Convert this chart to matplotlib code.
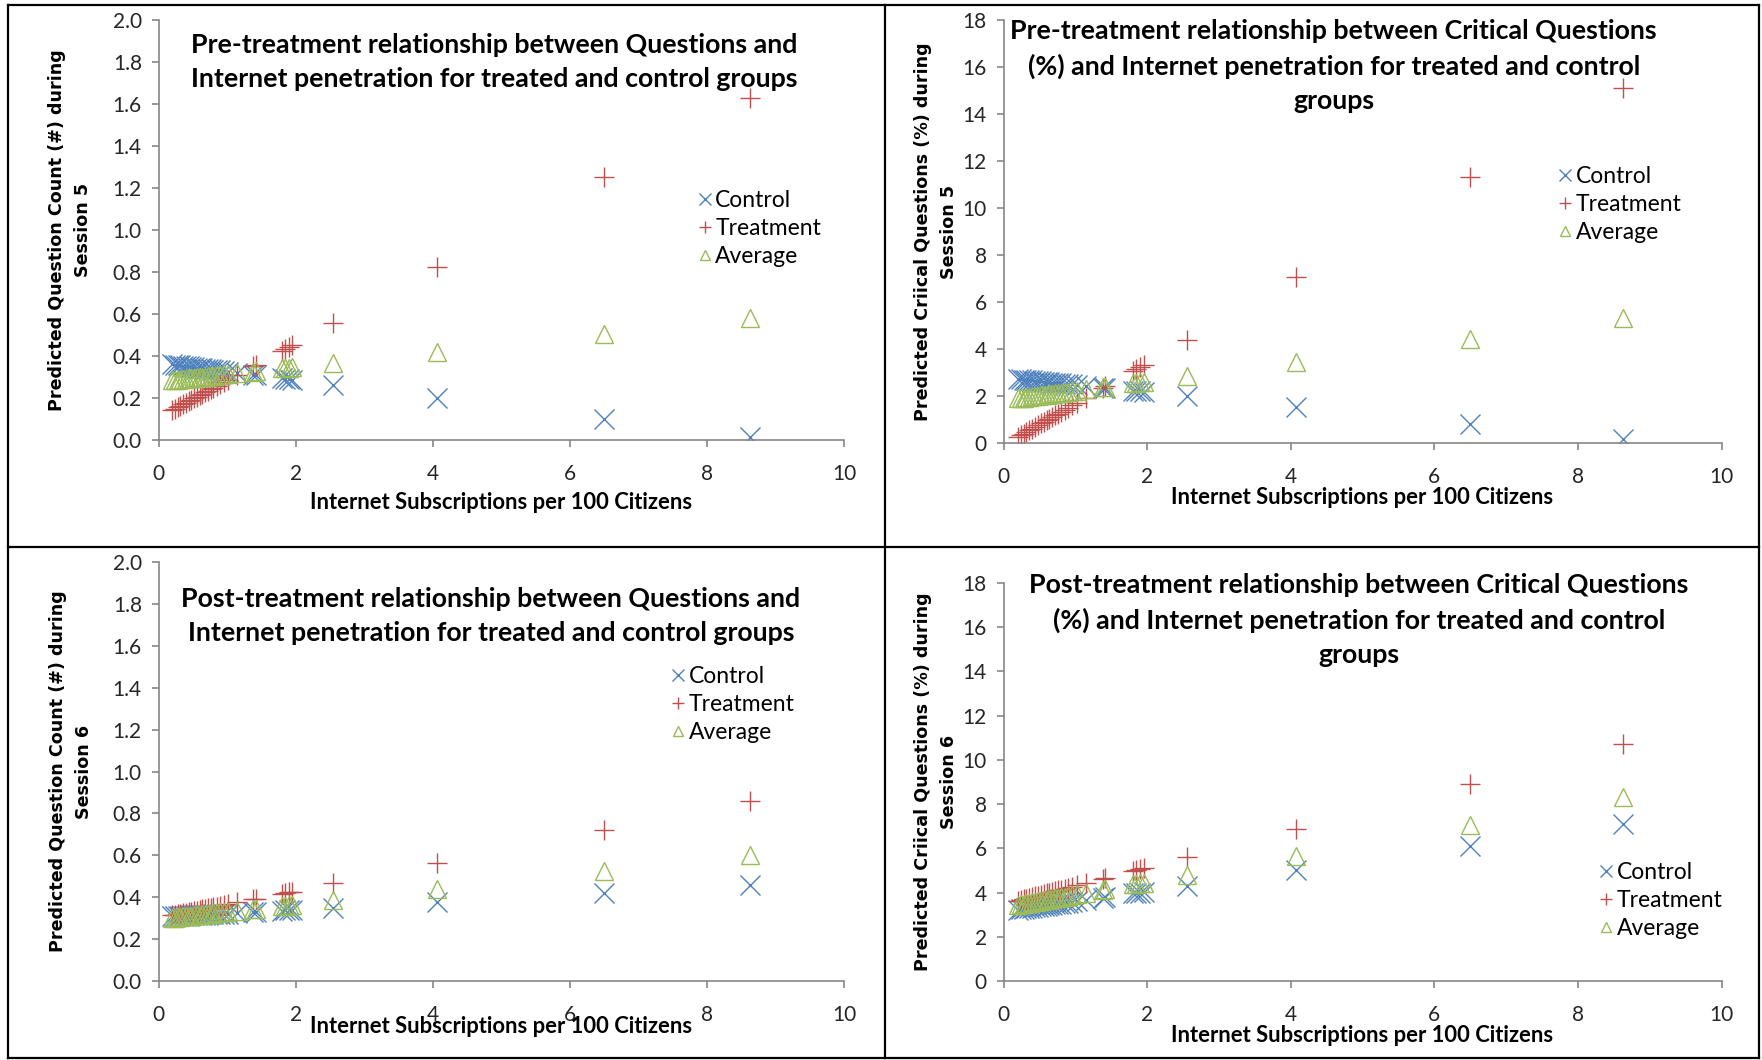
import matplotlib.pyplot as plt
from matplotlib.lines import Line2D

# Internet subscriptions per 100 citizens (one value per unit)
penetration = [0.20, 0.24, 0.28, 0.32, 0.36, 0.40, 0.44, 0.48, 0.52, 0.56,
               0.60, 0.64, 0.68, 0.72, 0.76, 0.80, 0.85, 0.90, 0.96, 1.02,
               1.15, 1.38, 1.42, 1.80, 1.85, 1.90, 1.95, 2.55, 4.07, 6.50, 8.63]

# Pre-treatment, question count (session 5)
pre_q_control = [0.362, 0.360, 0.359, 0.357, 0.355, 0.354, 0.352, 0.350, 0.349, 0.347,
                 0.345, 0.344, 0.342, 0.340, 0.339, 0.337, 0.335, 0.333, 0.331, 0.328,
                 0.323, 0.313, 0.312, 0.296, 0.294, 0.292, 0.290, 0.265, 0.203, 0.104, 0.016]
pre_q_treatment = [0.145, 0.152, 0.159, 0.166, 0.173, 0.180, 0.187, 0.194, 0.202, 0.209,
                   0.216, 0.223, 0.230, 0.237, 0.244, 0.251, 0.260, 0.268, 0.279, 0.290,
                   0.312, 0.353, 0.360, 0.427, 0.436, 0.444, 0.453, 0.559, 0.826, 1.254, 1.629]
pre_q_average = [0.287, 0.288, 0.290, 0.291, 0.293, 0.294, 0.295, 0.297, 0.298, 0.300,
                 0.301, 0.302, 0.304, 0.305, 0.307, 0.308, 0.310, 0.312, 0.314, 0.316,
                 0.320, 0.328, 0.330, 0.343, 0.345, 0.347, 0.348, 0.369, 0.422, 0.508, 0.582]

# Pre-treatment, critical questions % (session 5)
pre_c_control = [2.72, 2.71, 2.69, 2.68, 2.67, 2.66, 2.65, 2.63, 2.62, 2.61,
                 2.60, 2.58, 2.57, 2.56, 2.55, 2.54, 2.52, 2.51, 2.49, 2.47,
                 2.43, 2.36, 2.35, 2.23, 2.22, 2.20, 2.19, 2.00, 1.54, 0.82, 0.15]
pre_c_treatment = [0.26, 0.33, 0.40, 0.47, 0.54, 0.61, 0.68, 0.75, 0.83, 0.90,
                   0.97, 1.04, 1.11, 1.18, 1.25, 1.32, 1.41, 1.49, 1.60, 1.71,
                   1.93, 2.34, 2.41, 3.08, 3.17, 3.25, 3.34, 4.40, 7.07, 11.30, 15.10]
pre_c_average = [1.90, 1.92, 1.93, 1.95, 1.97, 1.98, 2.00, 2.01, 2.03, 2.05,
                 2.06, 2.08, 2.09, 2.11, 2.13, 2.14, 2.16, 2.18, 2.21, 2.23,
                 2.28, 2.38, 2.39, 2.55, 2.57, 2.59, 2.61, 2.85, 3.46, 4.44, 5.30]

# Post-treatment, question count (session 6)
post_q_control = [0.308, 0.308, 0.309, 0.310, 0.310, 0.311, 0.312, 0.313, 0.313, 0.314,
                  0.315, 0.316, 0.316, 0.317, 0.318, 0.318, 0.319, 0.320, 0.321, 0.322,
                  0.325, 0.329, 0.330, 0.336, 0.337, 0.338, 0.339, 0.350, 0.377, 0.421, 0.459]
post_q_treatment = [0.313, 0.316, 0.318, 0.321, 0.323, 0.326, 0.329, 0.331, 0.334, 0.336,
                    0.339, 0.342, 0.344, 0.347, 0.349, 0.352, 0.355, 0.359, 0.362, 0.366,
                    0.375, 0.390, 0.392, 0.417, 0.420, 0.424, 0.427, 0.466, 0.565, 0.723, 0.861]
post_q_average = [0.302, 0.303, 0.305, 0.306, 0.308, 0.309, 0.311, 0.312, 0.313, 0.315,
                  0.316, 0.318, 0.319, 0.320, 0.322, 0.323, 0.325, 0.327, 0.329, 0.331,
                  0.336, 0.344, 0.345, 0.359, 0.360, 0.362, 0.364, 0.385, 0.439, 0.525, 0.600]

# Post-treatment, critical questions % (session 6)
post_c_control = [3.22, 3.24, 3.26, 3.28, 3.30, 3.31, 3.33, 3.35, 3.37, 3.39,
                  3.41, 3.42, 3.44, 3.46, 3.48, 3.50, 3.52, 3.54, 3.57, 3.60,
                  3.66, 3.76, 3.78, 3.96, 3.98, 4.00, 4.03, 4.30, 5.00, 6.12, 7.10]
post_c_treatment = [3.63, 3.66, 3.70, 3.73, 3.76, 3.80, 3.83, 3.86, 3.90, 3.93,
                    3.96, 4.00, 4.03, 4.06, 4.10, 4.13, 4.17, 4.22, 4.27, 4.32,
                    4.43, 4.62, 4.65, 4.97, 5.01, 5.06, 5.10, 5.60, 6.88, 8.92, 10.71]
post_c_average = [3.45, 3.47, 3.49, 3.51, 3.54, 3.56, 3.58, 3.61, 3.63, 3.65,
                  3.68, 3.70, 3.72, 3.74, 3.77, 3.79, 3.82, 3.85, 3.88, 3.92,
                  3.99, 4.12, 4.15, 4.37, 4.40, 4.42, 4.45, 4.80, 5.67, 7.07, 8.30]

XLABEL = 'Internet Subscriptions per 100 Citizens'
BLUE = '#4F81BD'
RED = '#C0504D'
GREEN = '#9BBB59'
GREY = '#868686'

plt.rcParams['font.family'] = ['Lato', 'DejaVu Sans']

W, H = 1762, 1060
fig = plt.figure(figsize=(W / 100, H / 100), dpi=100)


def px_axes(x0, x1, y0, y1):
    # x0..x1, y0 (bottom) .. y1 (top) in pixels from top-left
    return fig.add_axes([x0 / W, 1 - y0 / H, (x1 - x0) / W, (y0 - y1) / H])


def plot_panel(ax, control, treatment, average, ymax, ystep, yfmt, title, ylabel,
               title_xy, ylabel_x, legend_xy, xlabel_pad):
    ax.plot(penetration, control, linestyle='none', marker='x', ms=15, mew=1.0,
            color=BLUE, label='Control')
    ax.plot(penetration, treatment, linestyle='none', marker='+', ms=15, mew=1.0,
            color=RED, label='Treatment')
    ax.plot(penetration, average, linestyle='none', marker='^', ms=13, mew=1.0,
            mfc='none', mec=GREEN, label='Average')

    ax.set_xlim(0, 10)
    ax.set_ylim(0, ymax)
    ax.set_xticks(range(0, 11, 2))
    yt = [i * ystep for i in range(int(round(ymax / ystep)) + 1)]
    ax.set_yticks(yt)
    ax.set_yticklabels([yfmt.format(v) for v in yt])
    for s in ['top', 'right']:
        ax.spines[s].set_visible(False)
    for s in ['left', 'bottom']:
        ax.spines[s].set_color(GREY)
        ax.spines[s].set_linewidth(1.2)
    ax.tick_params(colors=GREY, labelcolor='#262626', labelsize=15,
                   length=5, width=1.2, direction='out')
    ax.tick_params(axis='x', pad=12)
    ax.tick_params(axis='y', pad=7)
    ax.set_xlabel(XLABEL, fontsize=15.8, fontweight='bold', labelpad=xlabel_pad)

    ax.text(title_xy[0], title_xy[1], title, transform=ax.transAxes,
            ha='center', va='top', fontsize=19.3, fontweight='bold',
            linespacing=1.5)
    ax.text(ylabel_x, 0.5, ylabel, transform=ax.transAxes, rotation=90,
            ha='center', va='center', multialignment='center',
            fontsize=12.6, fontweight='bold', family='DejaVu Sans',
            linespacing=1.6)
    ax.legend(loc='upper left', bbox_to_anchor=legend_xy, frameon=False,
              fontsize=16.5, handlelength=0.6, handletextpad=0.15,
              labelspacing=0.3, borderpad=0, borderaxespad=0, markerscale=0.6)


ax1 = px_axes(158.5, 844, 440.5, 20)
plot_panel(ax1, pre_q_control, pre_q_treatment, pre_q_average, 2.0, 0.2, '{:.1f}',
           'Pre-treatment relationship between Questions and\n'
           'Internet penetration for treated and control groups',
           'Predicted Question Count (#) during\nSession 5',
           (0.49, 0.968), -0.129, (0.787, 0.595), 6)

ax2 = px_axes(1003.5, 1721.5, 443, 20)
plot_panel(ax2, pre_c_control, pre_c_treatment, pre_c_average, 18, 2, '{:.0f}',
           'Pre-treatment relationship between Critical Questions\n'
           '(%) and Internet penetration for treated and control\ngroups',
           'Predicted Criical Questions (%) during\nSession 5',
           (0.46, 1.003), -0.094, (0.773, 0.655), 0)

ax3 = px_axes(158.5, 844, 981, 562)
plot_panel(ax3, post_q_control, post_q_treatment, post_q_average, 2.0, 0.2, '{:.1f}',
           'Post-treatment relationship between Questions and\n'
           'Internet penetration for treated and control groups',
           'Predicted Question Count (#) during\nSession 6',
           (0.485, 0.94), -0.128, (0.748, 0.752), -6)

ax4 = px_axes(1003.5, 1721.5, 981, 583)
plot_panel(ax4, post_c_control, post_c_treatment, post_c_average, 18, 2, '{:.0f}',
           'Post-treatment relationship between Critical Questions\n'
           '(%) and Internet penetration for treated and control\ngroups',
           'Predicted Criical Questions (%) during\nSession 6',
           (0.495, 1.025), -0.094, (0.83, 0.298), 0)

# black frame lines dividing the four charts
frame = [((8, 8), (5, 1058)), ((1759, 1759), (5, 1058)), ((8, 1759), (5, 5)),
         ((8, 1759), (1058, 1058)), ((8, 1759), (547, 547)), ((885.5, 885.5), (5, 1058))]
for xs, ys in frame:
    fig.add_artist(Line2D([x / W for x in xs], [1 - y / H for y in ys],
                          color='black', linewidth=1.6))

fig.savefig('out.png', dpi=100)
